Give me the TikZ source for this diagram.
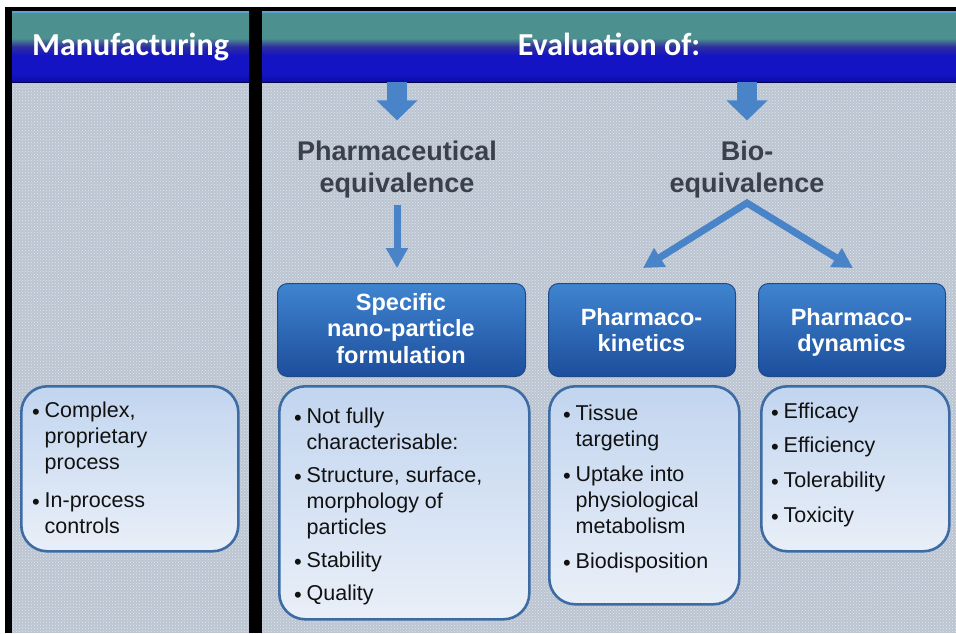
\documentclass[tikz,border=0pt]{standalone}
\usepackage{fontspec}
\setmainfont{Liberation Sans}
\newfontfamily\titlefont{Carlito}
\usetikzlibrary{patterns,arrows.meta}

\definecolor{panelbg}{HTML}{BBC4D1}
\definecolor{hdrteal}{HTML}{4D9090}
\definecolor{hdrmid}{HTML}{2E2E9E}
\definecolor{hdrblue}{HTML}{1414C4}
\definecolor{hdrdeep}{HTML}{0C0CA8}
\definecolor{hdrrim}{HTML}{5AA2D6}
\definecolor{arrowblue}{HTML}{4A84C8}
\definecolor{eqgrey}{HTML}{3A414C}
\definecolor{boxedge}{HTML}{3D6CA4}
\definecolor{boxtop}{HTML}{C2D5EF}
\definecolor{boxbot}{HTML}{E9EFF8}
\definecolor{btntop}{HTML}{3F84D0}
\definecolor{btnbot}{HTML}{1D4E9C}
\definecolor{btnedge}{HTML}{1F4A86}
\definecolor{bodytext}{HTML}{111111}

% header band: blue at the bottom, teal at the top
\pgfdeclareverticalshading{hdrshade}{100bp}{color(0bp)=(hdrdeep); color(25bp)=(hdrdeep); color(31bp)=(hdrblue); color(44bp)=(hdrblue); color(50bp)=(hdrmid); color(56bp)=(hdrteal); color(100bp)=(hdrteal)}

% bullet mark used in the lists
\newcommand\bu{\makebox[12.5pt][l]{\raisebox{-2.2pt}{\fontsize{22}{22}\selectfont •}}}

\tikzset{
  hdrband/.style={shading=hdrshade, inner sep=0, anchor=north west},
  hdrtitle/.style={text=white, font=\titlefont\bfseries\fontsize{32}{32}\selectfont, inner sep=0, anchor=base},
  panelfill/.style={fill=panelbg},
  paneltex/.style={pattern=crosshatch dots, pattern color=white, opacity=0.6},
  fatarrow/.style={draw=arrowblue, line width=20pt, -{Triangle[width=40pt,length=20pt]}},
  thinarrow/.style={draw=arrowblue, line width=7pt, -{Triangle[width=21pt,length=20pt]}},
  eqlabel/.style={text=eqgrey, font=\bfseries\fontsize{27}{32}\selectfont, inner sep=0, anchor=base},
  btn/.style={rounded corners=10pt, top color=btntop, bottom color=btnbot, draw=btnedge, line width=1pt, inner sep=0, anchor=north west},
  btnlabel/.style={text=white, font=\bfseries\fontsize{23.5}{26.5}\selectfont, inner sep=0, anchor=base},
  listbox/.style={rounded corners=26pt, top color=boxtop, bottom color=boxbot, draw=boxedge, line width=2.6pt, inner sep=0, anchor=north west},
  listtext/.style={text=bodytext, font=\fontsize{21.5}{26}\selectfont, inner sep=0, anchor=base west},
}

\begin{document}
\begin{tikzpicture}[x=1pt,y=-1pt]
\useasboundingbox (0,0) rectangle (956,633);
\fill[white] (0,0) rectangle (956,633);
\fill[black] (5,7) rectangle (956,633);

% panel bodies
\fill[panelfill] (12,82) rectangle (249,633);
\fill[panelfill] (262,82) rectangle (956,633);
\fill[paneltex] (12,82) rectangle (249,633);
\fill[paneltex] (262,82) rectangle (956,633);

% headers
\node[hdrband, minimum width=237pt, minimum height=71pt] (hdrL) at (12,11) {};
\node[hdrband, minimum width=694pt, minimum height=71pt] (hdrR) at (262,11) {};
\draw[hdrrim, line width=1.5pt] (hdrL.north west) ++(0,1) -- ++(237,0);
\draw[hdrrim, line width=1.5pt] (hdrR.north west) ++(0,1) -- ++(694,0);
\draw[black!70!blue, line width=1.5pt] (hdrL.south west) -- (hdrL.south east);
\draw[black!70!blue, line width=1.5pt] (hdrR.south west) -- (hdrR.south east);
\node[hdrtitle] (ttlL) at (130.5,55) {Manufacturing};
\node[hdrtitle] (ttlR) at (609,55) {Evaluation of:};

% evaluation branches
\node[eqlabel] (pe) at (397,160) {\begin{tabular}[t]{@{}c@{}}Pharmaceutical\\equivalence\end{tabular}};
\node[eqlabel] (be) at (747,160) {\begin{tabular}[t]{@{}c@{}}Bio-\\equivalence\end{tabular}};

\draw[fatarrow] (hdrR.south -| pe.center) -- ++(0,38);
\draw[fatarrow] (hdrR.south -| be.center) -- ++(0,38);

% blue heading boxes
\node[btn, minimum width=248pt, minimum height=93pt] (spec) at (277,283) {};
\node[btn, minimum width=187pt, minimum height=93pt] (pk) at (548,283) {};
\node[btn, minimum width=187pt, minimum height=93pt] (pd) at (758,283) {};
\node[btnlabel] (specl) at (401,310) {\begin{tabular}[t]{@{}c@{}}Specific\\nano-particle\\formulation\end{tabular}};
\node[btnlabel] (pkl) at (641.5,325) {\begin{tabular}[t]{@{}c@{}}Pharmaco-\\kinetics\end{tabular}};
\node[btnlabel] (pdl) at (851.5,325) {\begin{tabular}[t]{@{}c@{}}Pharmaco-\\dynamics\end{tabular}};

% connectors below the branch labels
\coordinate (peout) at (397,205);
\coordinate (beout) at (747,203);
\coordinate (pkin) at (643,268);
\coordinate (pdin) at (853,268);
\draw[thinarrow] (peout) -- (spec.north -| peout) [shorten >=15pt];
\draw[draw=arrowblue, line width=7pt, line join=miter,
      {Triangle[width=21pt,length=20pt]}-{Triangle[width=21pt,length=20pt]}]
      (pkin) -- (beout) -- (pdin);

% detail boxes
\node[listbox, minimum width=217pt, minimum height=165pt] (mfg) at (20,385) {};
\node[listbox, minimum width=250pt, minimum height=233pt] (specbox) at (278,385) {};
\node[listbox, minimum width=190pt, minimum height=218pt] (pkbox) at (548,385) {};
\node[listbox, minimum width=188pt, minimum height=165pt] (pdbox) at (760,385) {};

\node[listtext] (mfgt) at (32,417) {\begin{tabular}[t]{@{}l@{}l@{}}
\bu & Complex,\\ & proprietary\\ & process\\[12pt]
\bu & In-process\\ & controls\end{tabular}};

\node[listtext] (spect) at (294,423) {\begin{tabular}[t]{@{}l@{}l@{}}
\bu & Not fully\\ & characterisable:\\[7pt]
\bu & Structure, surface,\\ & morphology of\\ & particles\\[7pt]
\bu & Stability\\[7pt]
\bu & Quality\end{tabular}};

\node[listtext] (pkt) at (563,420) {\begin{tabular}[t]{@{}l@{}l@{}}
\bu & Tissue\\ & targeting\\[9pt]
\bu & Uptake into\\ & physiological\\ & metabolism\\[9pt]
\bu & Biodisposition\end{tabular}};

\node[listtext] (pdt) at (771,418) {\begin{tabular}[t]{@{}l@{}l@{}}
\bu & Efficacy\\[8.7pt]
\bu & Efficiency\\[8.7pt]
\bu & Tolerability\\[8.7pt]
\bu & Toxicity\end{tabular}};
\end{tikzpicture}
\end{document}
